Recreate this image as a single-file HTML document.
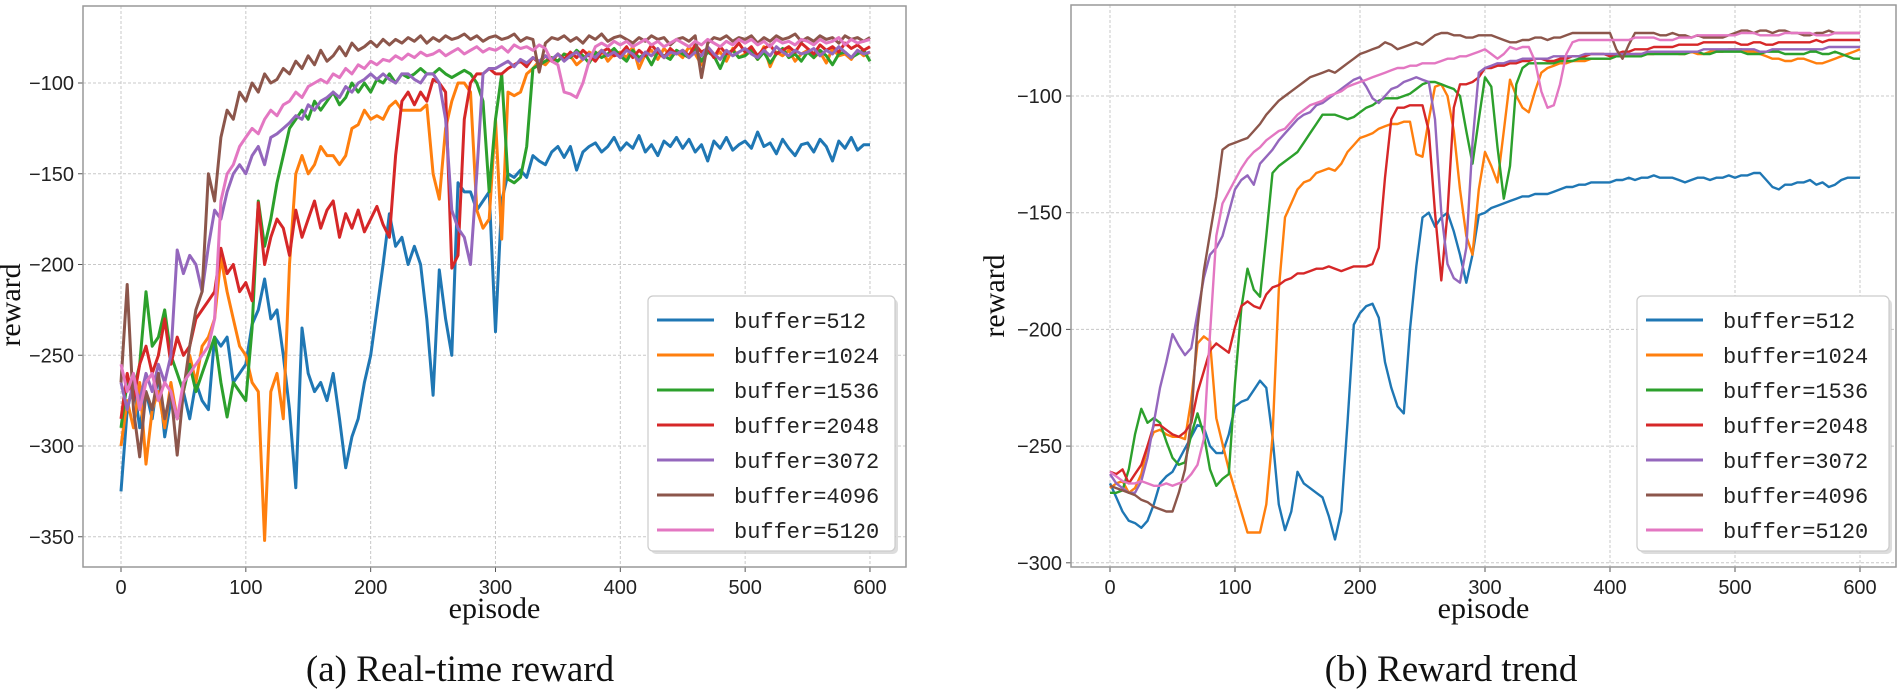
<!DOCTYPE html>
<html><head><meta charset="utf-8"><style>
html,body{margin:0;padding:0;background:#fff;}
svg{display:block;}
.tk{font-family:"Liberation Sans",sans-serif;font-size:20px;fill:#222;}
.ax{font-family:"Liberation Serif",serif;font-size:30px;fill:#111;}
.cap{font-family:"Liberation Serif",serif;font-size:37px;fill:#111;}
.lg{font-family:"Liberation Mono",monospace;font-size:22px;fill:#222;}
</style></head><body>
<svg id="fig" width="1899" height="689" viewBox="0 0 1899 689" xmlns="http://www.w3.org/2000/svg">
<g id="left"></g>
<g id="right"></g>
<text class="cap" x="460" y="681" text-anchor="middle">(a) Real-time reward</text>
<text class="cap" x="1451" y="681" text-anchor="middle">(b) Reward trend</text>
</svg>
<script>
const episodes = [];
for (let e = 0; e <= 600; e += 5) episodes.push(e);
const xTicks = [0,100,200,300,400,500,600];
const yTicksLeft = [-100,-150,-200,-250,-300,-350];
const yTicksRight = [-100,-150,-200,-250,-300];
const seriesNames = ["buffer=512","buffer=1024","buffer=1536","buffer=2048","buffer=3072","buffer=4096","buffer=5120"];
const colors = ["#1f77b4","#ff7f0e","#2ca02c","#d62728","#9467bd","#8c564b","#e377c2"];

const L512 = [-325,-280,-265,-290,-270,-285,-260,-295,-275,-285,-270,-285,-265,-275,-280,-240,-245,-240,-265,-260,-255,-233,-225,-208,-230,-225,-250,-280,-323,-235,-260,-270,-265,-275,-260,-285,-312,-295,-285,-265,-250,-225,-200,-172,-190,-185,-200,-190,-200,-230,-272,-203,-230,-250,-155,-160,-160,-170,-165,-160,-237,-165,-150,-152,-148,-152,-140,-143,-145,-138,-135,-141,-135,-148,-138,-135,-133,-138,-135,-130,-137,-133,-136,-129,-138,-134,-140,-132,-135,-130,-136,-131,-138,-134,-143,-132,-136,-130,-137,-134,-132,-136,-127,-135,-133,-139,-131,-136,-140,-134,-133,-138,-131,-135,-143,-132,-136,-130,-137,-134,-134];
const L1024 = [-300,-275,-290,-265,-310,-280,-270,-290,-265,-285,-270,-250,-265,-245,-240,-230,-196,-215,-230,-245,-250,-265,-270,-352,-270,-260,-285,-200,-150,-140,-150,-145,-135,-140,-140,-145,-140,-125,-123,-115,-120,-118,-120,-113,-110,-115,-115,-115,-115,-112,-150,-164,-125,-110,-100,-100,-105,-170,-180,-175,-120,-186,-105,-107,-105,-95,-92,-88,-90,-86,-88,-84,-85,-90,-87,-83,-85,-82,-88,-84,-83,-86,-80,-92,-84,-82,-87,-81,-85,-83,-86,-80,-84,-90,-82,-85,-83,-88,-81,-86,-84,-82,-87,-80,-91,-83,-85,-82,-88,-84,-82,-86,-83,-89,-81,-85,-84,-87,-82,-85,-83];
const L1536 = [-290,-265,-270,-255,-215,-245,-240,-225,-250,-260,-270,-255,-270,-260,-250,-240,-265,-284,-265,-270,-275,-235,-165,-190,-175,-155,-140,-125,-120,-115,-120,-110,-115,-110,-105,-112,-108,-100,-105,-100,-105,-98,-100,-95,-100,-95,-97,-95,-92,-95,-95,-92,-95,-97,-95,-93,-95,-100,-110,-160,-120,-95,-153,-155,-152,-135,-92,-90,-88,-86,-88,-84,-86,-82,-85,-89,-83,-86,-84,-81,-85,-88,-82,-86,-84,-90,-83,-85,-87,-82,-84,-86,-81,-88,-83,-85,-92,-84,-82,-86,-85,-82,-87,-83,-89,-84,-81,-86,-84,-88,-83,-86,-82,-85,-90,-84,-83,-86,-84,-82,-88];
const L2048 = [-285,-260,-275,-255,-245,-260,-250,-230,-255,-240,-250,-245,-230,-225,-220,-215,-191,-205,-200,-215,-210,-220,-166,-200,-185,-175,-180,-195,-170,-185,-175,-165,-180,-170,-165,-185,-172,-180,-170,-182,-175,-168,-178,-185,-140,-110,-105,-112,-105,-110,-98,-100,-105,-202,-195,-120,-100,-95,-95,-92,-95,-95,-92,-90,-88,-91,-86,-89,-85,-88,-84,-87,-83,-86,-82,-85,-88,-83,-81,-85,-84,-80,-86,-82,-85,-79,-83,-86,-81,-84,-82,-85,-79,-83,-81,-86,-80,-84,-82,-78,-83,-80,-85,-81,-79,-84,-82,-80,-83,-78,-81,-84,-79,-82,-80,-83,-78,-81,-79,-82,-80];
const L3072 = [-265,-280,-265,-275,-260,-270,-255,-265,-250,-192,-205,-195,-200,-215,-190,-170,-175,-160,-150,-145,-150,-140,-135,-145,-130,-128,-125,-122,-118,-120,-112,-115,-110,-108,-105,-108,-102,-105,-100,-98,-95,-98,-95,-98,-100,-95,-95,-98,-100,-95,-95,-100,-120,-170,-180,-185,-200,-150,-95,-92,-92,-90,-88,-91,-87,-89,-86,-88,-85,-87,-84,-88,-85,-83,-87,-84,-86,-82,-85,-83,-86,-82,-84,-88,-83,-85,-81,-86,-83,-84,-82,-86,-83,-85,-80,-84,-87,-82,-85,-83,-81,-84,-86,-82,-85,-80,-83,-85,-82,-84,-83,-81,-85,-82,-84,-80,-83,-86,-82,-84,-83];
const L4096 = [-265,-211,-280,-306,-270,-280,-260,-285,-270,-305,-270,-245,-225,-215,-150,-165,-130,-115,-120,-105,-110,-100,-105,-95,-100,-98,-92,-95,-88,-92,-85,-90,-82,-88,-85,-80,-85,-78,-82,-80,-77,-80,-76,-79,-76,-78,-75,-77,-74,-78,-75,-77,-74,-76,-75,-73,-76,-74,-77,-75,-74,-76,-75,-73,-77,-75,-76,-94,-78,-75,-76,-74,-77,-75,-78,-74,-76,-73,-77,-75,-74,-76,-78,-75,-77,-74,-76,-75,-79,-76,-75,-77,-74,-97,-78,-75,-76,-74,-77,-75,-76,-74,-78,-75,-77,-74,-76,-75,-73,-77,-75,-77,-74,-76,-75,-78,-74,-76,-75,-77,-75];
const L5120 = [-255,-270,-260,-280,-265,-260,-275,-265,-270,-285,-265,-260,-255,-250,-245,-230,-165,-150,-145,-135,-130,-125,-128,-120,-115,-118,-112,-110,-105,-108,-102,-100,-98,-100,-95,-97,-92,-95,-90,-92,-88,-90,-87,-88,-85,-87,-84,-86,-83,-85,-84,-82,-85,-83,-81,-84,-82,-80,-83,-81,-82,-80,-83,-79,-81,-80,-82,-79,-81,-88,-90,-105,-106,-108,-100,-88,-80,-78,-80,-77,-79,-77,-80,-78,-76,-79,-77,-80,-78,-76,-78,-80,-77,-79,-76,-78,-80,-77,-79,-76,-78,-76,-79,-77,-80,-76,-78,-77,-79,-76,-77,-79,-76,-78,-77,-75,-79,-76,-78,-77,-76];

const R512 = [-266,-272,-278,-282,-283,-285,-282,-275,-266,-263,-261,-256,-251,-246,-241,-242,-250,-253,-253,-245,-233,-231,-230,-226,-222,-225,-246,-275,-286,-278,-261,-266,-268,-270,-272,-280,-290,-278,-240,-198,-193,-190,-189,-195,-214,-225,-233,-236,-200,-173,-152,-150,-156,-152,-150,-158,-168,-180,-168,-151,-150,-148,-147,-146,-145,-144,-143,-143,-142,-142,-142,-141,-140,-139,-139,-138,-138,-137,-137,-137,-137,-136,-136,-135,-136,-135,-135,-134,-135,-135,-135,-136,-137,-136,-135,-135,-136,-135,-135,-134,-135,-134,-134,-133,-133,-136,-139,-140,-138,-138,-137,-137,-136,-138,-137,-139,-138,-136,-135,-135,-135];
const R1024 = [-268,-266,-265,-270,-268,-262,-250,-244,-243,-245,-246,-246,-247,-230,-206,-203,-205,-238,-249,-260,-269,-278,-287,-287,-287,-275,-246,-183,-152,-146,-140,-137,-136,-133,-132,-131,-132,-129,-124,-121,-118,-117,-116,-114,-113,-112,-112,-111,-111,-125,-126,-110,-96,-95,-100,-115,-140,-160,-168,-140,-124,-130,-137,-115,-93,-100,-105,-107,-98,-90,-88,-87,-86,-86,-85,-85,-85,-84,-84,-84,-84,-83,-83,-83,-82,-82,-82,-82,-81,-81,-81,-82,-82,-81,-82,-82,-81,-81,-81,-80,-80,-80,-81,-81,-82,-83,-84,-84,-85,-85,-84,-84,-85,-86,-86,-85,-84,-83,-82,-81,-80];
const R1536 = [-270,-270,-269,-260,-245,-234,-240,-238,-240,-248,-255,-258,-257,-245,-236,-245,-260,-267,-264,-262,-223,-191,-174,-183,-186,-160,-133,-130,-128,-126,-124,-120,-116,-112,-108,-108,-108,-109,-110,-109,-107,-105,-104,-102,-101,-101,-101,-100,-99,-97,-95,-94,-94,-95,-96,-97,-100,-115,-129,-110,-92,-96,-122,-144,-130,-95,-88,-86,-86,-86,-86,-86,-85,-85,-85,-84,-84,-84,-84,-84,-84,-83,-83,-83,-83,-83,-82,-82,-82,-82,-82,-82,-82,-81,-81,-82,-82,-81,-81,-81,-81,-81,-82,-82,-82,-81,-81,-81,-82,-82,-82,-82,-81,-81,-82,-82,-81,-82,-83,-84,-84];
const R2048 = [-261,-262,-260,-266,-262,-258,-250,-241,-241,-243,-245,-246,-244,-240,-227,-218,-209,-206,-208,-210,-199,-190,-188,-190,-191,-185,-182,-181,-179,-178,-176,-176,-175,-174,-174,-173,-174,-175,-174,-173,-173,-173,-172,-165,-135,-110,-105,-105,-104,-104,-104,-115,-150,-179,-150,-105,-95,-95,-94,-92,-88,-88,-87,-87,-86,-86,-85,-85,-84,-84,-85,-85,-84,-84,-83,-83,-83,-82,-82,-82,-83,-82,-81,-81,-80,-80,-80,-79,-79,-79,-79,-78,-78,-78,-78,-77,-77,-77,-77,-77,-77,-78,-78,-77,-77,-78,-78,-77,-77,-77,-77,-77,-77,-76,-77,-76,-76,-76,-76,-76,-76];
const R3072 = [-262,-266,-268,-270,-270,-265,-255,-240,-225,-214,-202,-207,-211,-208,-193,-178,-168,-165,-160,-150,-140,-136,-134,-138,-129,-126,-123,-119,-116,-113,-110,-108,-107,-104,-103,-101,-99,-97,-95,-93,-92,-96,-101,-103,-100,-97,-96,-94,-93,-92,-93,-94,-110,-150,-172,-178,-180,-165,-120,-90,-88,-87,-86,-86,-85,-85,-84,-84,-84,-84,-84,-83,-83,-83,-83,-83,-82,-82,-82,-82,-82,-82,-82,-82,-82,-82,-81,-81,-81,-81,-81,-81,-81,-81,-81,-80,-80,-80,-80,-80,-80,-80,-80,-80,-81,-81,-80,-80,-80,-80,-80,-80,-80,-80,-80,-79,-79,-79,-79,-79,-79];
const R4096 = [-267,-268,-269,-270,-271,-273,-274,-276,-277,-278,-278,-270,-260,-238,-199,-175,-159,-143,-123,-121,-120,-119,-118,-115,-112,-108,-105,-102,-100,-98,-96,-94,-92,-91,-90,-89,-90,-88,-86,-84,-82,-81,-80,-79,-77,-78,-80,-79,-78,-77,-78,-76,-74,-73,-73,-74,-74,-75,-75,-74,-74,-74,-75,-76,-77,-77,-76,-76,-75,-75,-76,-75,-75,-74,-73,-73,-73,-73,-73,-73,-73,-80,-84,-78,-73,-73,-73,-73,-74,-74,-73,-74,-74,-75,-74,-75,-75,-75,-75,-74,-73,-72,-72,-73,-72,-72,-73,-72,-72,-73,-73,-74,-74,-73,-73,-72,-73,-73,-73,-73,-73];
const R5120 = [-261,-263,-265,-266,-266,-265,-266,-267,-267,-266,-267,-266,-265,-262,-258,-247,-202,-160,-146,-141,-136,-131,-127,-124,-122,-119,-117,-115,-114,-111,-108,-106,-104,-103,-102,-100,-99,-98,-96,-95,-94,-93,-92,-91,-90,-89,-88,-88,-87,-87,-86,-86,-86,-85,-84,-84,-83,-83,-82,-81,-80,-82,-84,-82,-79,-80,-79,-79,-85,-98,-105,-104,-95,-82,-77,-76,-76,-76,-76,-76,-76,-76,-76,-76,-75,-75,-75,-75,-76,-76,-76,-75,-75,-75,-74,-74,-74,-74,-74,-74,-74,-73,-73,-73,-74,-74,-74,-74,-73,-73,-73,-73,-73,-74,-74,-74,-73,-73,-73,-73,-73];

const leftSeries = [L512,L1024,L1536,L2048,L3072,L4096,L5120];
const rightSeries = [R512,R1024,R1536,R2048,R3072,R4096,R5120];

const NS = "http://www.w3.org/2000/svg";
function mk(tag, attrs, parent) {
  const el = document.createElementNS(NS, tag);
  for (const k in attrs) el.setAttribute(k, attrs[k]);
  parent.appendChild(el);
  return el;
}

function drawChart(g, cfg, series, yTicks, key) {
  const xS = e => cfg.x0 + e * cfg.xk;
  const yS = v => cfg.y0 + (-100 - v) * cfg.yk;
  const bg = mk("rect", {x:cfg.l, y:cfg.t, width:cfg.r-cfg.l, height:cfg.b-cfg.t, fill:"#fff"}, g);
  
  
  xTicks.forEach(t => {
    const gl = mk("line", {x1:xS(t), x2:xS(t), y1:cfg.t, y2:cfg.b, stroke:"#c8c8c8", "stroke-width":1, "stroke-dasharray":"3,2"}, g);
    
    
    mk("line", {x1:xS(t), x2:xS(t), y1:cfg.b, y2:cfg.b+5, stroke:"#555", "stroke-width":1}, g);
    const tx = mk("text", {x:xS(t), y:cfg.b+27, "text-anchor":"middle", class:"tk"}, g);
    tx.textContent = t;
    
    
  });
  yTicks.forEach(t => {
    const gl = mk("line", {x1:cfg.l, x2:cfg.r, y1:yS(t), y2:yS(t), stroke:"#c8c8c8", "stroke-width":1, "stroke-dasharray":"3,2"}, g);
    
    
    mk("line", {x1:cfg.l-5, x2:cfg.l, y1:yS(t), y2:yS(t), stroke:"#555", "stroke-width":1}, g);
    const tx = mk("text", {x:cfg.l-9, y:yS(t)+7, "text-anchor":"end", class:"tk"}, g);
    tx.textContent = "\u2212" + Math.abs(t);
    
    
  });
  series.forEach((vals, i) => {
    const pts = vals.map((v, j) => xS(episodes[j]).toFixed(1) + "," + yS(v).toFixed(1)).join(" ");
    const pl = mk("polyline", {points:pts, fill:"none", stroke:colors[i], "stroke-width":cfg.lw, "stroke-linejoin":"round"}, g);
    
    
  });
  const fr = mk("rect", {x:cfg.l, y:cfg.t, width:cfg.r-cfg.l, height:cfg.b-cfg.t, fill:"none", stroke:"#999", "stroke-width":1.5}, g);
  
  
  const xl = mk("text", {x:(cfg.l+cfg.r)/2, y:cfg.b+51, "text-anchor":"middle", class:"ax"}, g);
  xl.textContent = "episode";
  
  
  const yl = mk("text", {x:cfg.ylx, y:cfg.yly, "text-anchor":"middle", class:"ax", transform:"rotate(-90 " + cfg.ylx + " " + cfg.yly + ")"}, g);
  yl.textContent = "reward";
  
  
  const lgG = mk("g", {}, g);
  
  
  mk("rect", {x:cfg.lgx+3, y:299, width:cfg.lgw, height:255, rx:5, fill:"#bbb", opacity:0.5}, lgG);
  mk("rect", {x:cfg.lgx, y:296, width:cfg.lgw, height:255, rx:5, fill:"#fff", stroke:"#ccc", "stroke-width":1.2}, lgG);
  seriesNames.forEach((n, i) => {
    const yy = 320 + i * 35;
    const en = mk("g", {}, lgG);
    
    
    mk("line", {x1:cfg.lgx+9, x2:cfg.lgx+66, y1:yy, y2:yy, stroke:colors[i], "stroke-width":3}, en);
    const t = mk("text", {x:cfg.lgx+86, y:yy+8, class:"lg"}, en);
    t.textContent = n;
  });
}

drawChart(document.getElementById("left"),
  {l:83, r:906, t:6, b:567, x0:121, xk:1.2483, y0:83, yk:1.815, lw:3, ylx:20, yly:305, lgx:648, lgw:247},
  leftSeries, yTicksLeft, "realtime");
drawChart(document.getElementById("right"),
  {l:1071, r:1896, t:5, b:567, x0:1110, xk:1.25, y0:96, yk:2.334, lw:2.4, ylx:1004, yly:296, lgx:1637, lgw:252},
  rightSeries, yTicksRight, "trend");
</script>
</body></html>
